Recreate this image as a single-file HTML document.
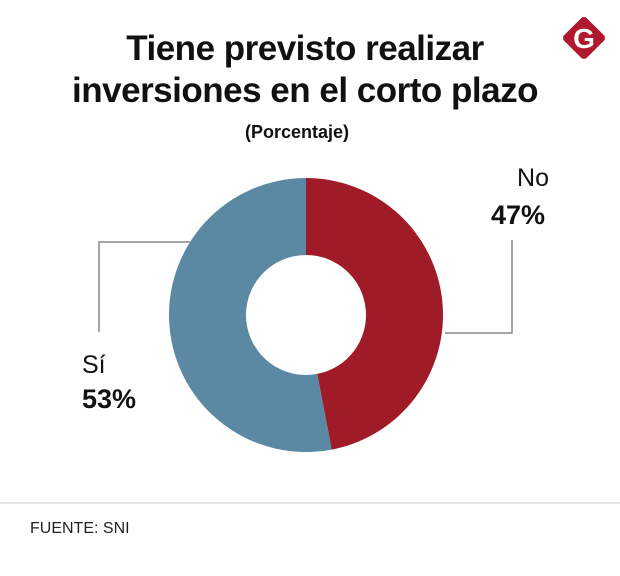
<!DOCTYPE html>
<html><head><meta charset="utf-8"><style>
body{margin:0;width:620px;height:576px;background:#fff;font-family:"Liberation Sans",sans-serif;overflow:hidden;position:relative}
.t{position:absolute;left:0;width:620px;text-align:center;font-weight:bold;color:#111}
</style></head><body>
<div class="t" style="top:28px;font-size:35px;line-height:42px;letter-spacing:-0.5px;left:-5px">Tiene previsto realizar<br>inversiones en el corto plazo</div>
<div class="t" style="top:122px;font-size:18px;left:-13px">(Porcentaje)</div>
<svg width="620" height="576" style="position:absolute;left:0;top:0">
<g>
<rect x="568" y="22" width="32" height="32" rx="4" fill="#b0182f" transform="rotate(45 584 38)"/>
<text x="584" y="48" text-anchor="middle" font-family="Liberation Sans" font-weight="bold" font-size="28" fill="#fff">G</text>
</g>
<g id="slices"></g>
<polyline points="190,242 99,242 99,332" fill="none" stroke="#888" stroke-width="1.5"/>
<polyline points="445,333 512,333 512,240" fill="none" stroke="#888" stroke-width="1.5"/>
<text x="533" y="186" text-anchor="middle" font-size="25" fill="#111">No</text>
<text x="518" y="224" text-anchor="middle" font-size="27" font-weight="bold" fill="#111">47%</text>
<text x="82" y="373" font-size="25" fill="#111">Sí</text>
<text x="82" y="408" font-size="27" font-weight="bold" fill="#111">53%</text>
<line x1="0" y1="503" x2="620" y2="503" stroke="#ccc" stroke-width="1"/>
<text x="30" y="533" font-size="16" fill="#222">FUENTE: SNI</text>
</svg>
<script>
const categories=["No","Sí"];
const values=[47,53];
const colors=["#9e1b27","#5b88a2"];
const cx=306,cy=315,R=137,r=60;
const g=document.getElementById('slices');
const total=values.reduce((a,b)=>a+b,0);
let a0=0;
function pt(rad,a){return [cx+rad*Math.sin(a),cy-rad*Math.cos(a)];}
values.forEach((v,i)=>{
  const a1=a0+v/total*2*Math.PI;
  const lg=(a1-a0)>Math.PI?1:0;
  const [x0,y0]=pt(R,a0),[x1,y1]=pt(R,a1),[x2,y2]=pt(r,a1),[x3,y3]=pt(r,a0);
  const p=document.createElementNS('http://www.w3.org/2000/svg','path');
  p.setAttribute('d',`M${x0},${y0}A${R},${R} 0 ${lg} 1 ${x1},${y1}L${x2},${y2}A${r},${r} 0 ${lg} 0 ${x3},${y3}Z`);
  p.setAttribute('fill',colors[i]);
  
  
  g.appendChild(p);
  a0=a1;
});
</script>
</body></html>
